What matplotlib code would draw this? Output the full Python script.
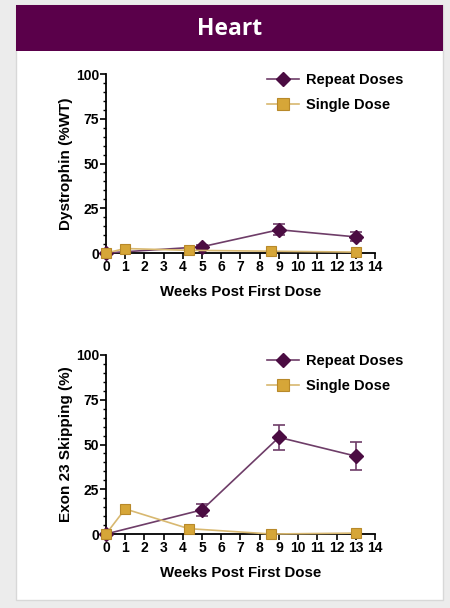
import matplotlib
matplotlib.use('Agg')
import matplotlib.pyplot as plt
from matplotlib.patches import Rectangle
from matplotlib.lines import Line2D
from matplotlib.ticker import MultipleLocator

plt.rcParams['font.family'] = ['Liberation Sans', 'DejaVu Sans']
plt.rcParams['font.weight'] = 'bold'

# data
rep_x = [0, 5, 9, 13]
single_x = [0, 1, 4.3, 8.6, 13]

dys_rep = [0, 3.5, 13, 9]
dys_rep_err = [0, 1, 3, 2.5]
dys_single = [0, 2.5, 1.5, 1, 0.5]

skip_rep = [0, 13.5, 54, 43.5]
skip_rep_err = [0, 3.5, 7, 8]
skip_single = [0, 14, 3, 0, 0.5]

ylabels = ['Dystrophin (%WT)', 'Exon 23 Skipping (%)']
series_names = ['Repeat Doses', 'Single Dose']

W, H = 450, 608
fig = plt.figure(figsize=(W/100, H/100), dpi=100)
fig.patch.set_facecolor('#ececec')

# white card and purple header
fig.patches.append(Rectangle((16/W, 1-600/H), 427/W, 595/H, transform=fig.transFigure,
                             facecolor='white', edgecolor='#d8d8d8', lw=1, zorder=-10))
fig.patches.append(Rectangle((16/W, 1-51/H), 427/W, 46/H, transform=fig.transFigure,
                             facecolor='#5a004a', edgecolor='none', zorder=-9))
fig.text(230/W, 1-29/H, 'Heart', color='white', fontsize=16.5, fontweight='bold',
         family=['Open Sans', 'DejaVu Sans'], ha='center', va='center')

purple = '#4b0c42'
purple_line = '#6e3d68'
gold = '#d6a638'
gold_edge = '#b8892a'
gold_line = '#d8b870'

def panel(top, bottom, rep, rep_err, single, ylab):
    ax = fig.add_axes([106/W, 1-bottom/H, 269/W, (bottom-top)/H])
    ax.patch.set_alpha(0)
    ax.errorbar(rep_x, rep, yerr=rep_err, color=purple_line, lw=1.2, marker='D', ms=7,
                mfc=purple, mec=purple, ecolor=purple_line, elinewidth=1.2, capsize=4,
                capthick=1.2, zorder=3, clip_on=False)
    ax.plot(single_x, single, color=gold_line, lw=1.2, marker='s', ms=7.5,
            mfc=gold, mec=gold_edge, mew=0.8, zorder=4, clip_on=False)
    ax.set_xlim(0, 14)
    ax.set_ylim(0, 100)
    ax.xaxis.set_major_locator(MultipleLocator(1))
    ax.yaxis.set_major_locator(MultipleLocator(25))
    ax.yaxis.set_minor_locator(MultipleLocator(5))
    for s in ['top', 'right']:
        ax.spines[s].set_visible(False)
    for s in ['left', 'bottom']:
        ax.spines[s].set_linewidth(1.3)
    ax.tick_params(axis='both', which='major', length=4, width=1.2, labelsize=10, pad=1)
    ax.tick_params(axis='y', which='minor', length=2.5, width=1)
    for t in ax.get_xticklabels() + ax.get_yticklabels():
        t.set_fontweight('bold')
    ax.set_xlabel('Weeks Post First Dose', fontsize=10.8, fontweight='bold', labelpad=8)
    ax.set_ylabel(ylab, fontsize=11, fontweight='bold', labelpad=2)
    handles = [Line2D([], [], color=purple_line, lw=1.2, marker='D', ms=7.5, mfc=purple, mec=purple),
               Line2D([], [], color=gold_line, lw=1.2, marker='s', ms=8, mfc=gold,
                      mec=gold_edge, mew=0.8)]
    leg = ax.legend(handles, series_names, loc='upper right', bbox_to_anchor=(1.155, 1.077),
                    frameon=False, fontsize=10.5, handlelength=2.2, labelspacing=0.75,
                    handletextpad=0.5)
    for t in leg.get_texts():
        t.set_fontweight('bold')
    return ax

panel(74, 253, dys_rep, dys_rep_err, dys_single, ylabels[0])
panel(355, 534, skip_rep, skip_rep_err, skip_single, ylabels[1])

fig.savefig('out.png', dpi=100, facecolor=fig.get_facecolor())
